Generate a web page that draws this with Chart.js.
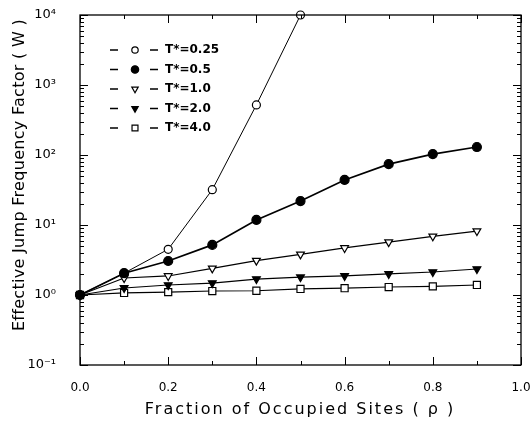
<!DOCTYPE html>
<html>
<head>
<meta charset="utf-8">
<script src="https://cdn.jsdelivr.net/npm/chart.js@4.4.1/dist/chart.umd.min.js"></script>
<style>
	html, body { margin: 0; padding: 0; background: #fff; }
	#wrap { width: 532px; height: 424px; }
</style>
</head>
<body>
<div id="wrap"><canvas id="chart" width="532" height="424"></canvas></div>
<script>
// fraction of occupied sites
const rho = [0.0, 0.1, 0.2, 0.3, 0.4, 0.5, 0.6, 0.7, 0.8, 0.9];

// effective jump frequency factor W, one list per temperature
const wT025 = [1, 2.05, 4.5, 32, 520, 10000];
const wT05 = [1, 2.05, 3.06, 5.2, 11.8, 22, 44, 74, 103, 130];
const wT10 = [1, 1.75, 1.87, 2.4, 3.1, 3.8, 4.7, 5.7, 6.9, 8.2];
const wT20 = [1, 1.26, 1.39, 1.48, 1.69, 1.8, 1.87, 2.0, 2.13, 2.35];
const wT40 = [1, 1.07, 1.1, 1.14, 1.15, 1.22, 1.25, 1.3, 1.33, 1.39];

const seriesLabels = ['T*=0.25', 'T*=0.5', 'T*=1.0', 'T*=2.0', 'T*=4.0'];

const xTicks = [0, 0.2, 0.4, 0.6, 0.8, 1.0];
const xMinorTicks = [0.1, 0.3, 0.5, 0.7, 0.9];
const yDecades = [0.1, 1, 10, 100, 1000, 10000];

const xTitle = 'Fraction of Occupied Sites ( ρ )';
const yTitle = 'Effective Jump Frequency Factor ( W )';

const supers = { '-': '⁻', '0': '⁰', '1': '¹', '2': '²', '3': '³', '4': '⁴' };

function toPoints (vals) {
	return vals.map((v, i) => ({ x: rho[i], y: v }));
}

function series (label, vals, style, filled, extra) {
	return Object.assign({
		label: label,
		data: toPoints(vals),
		borderColor: '#000',
		backgroundColor: filled ? '#000' : '#fff',
		pointBackgroundColor: filled ? '#000' : '#fff',
		pointBorderColor: '#000',
		pointBorderWidth: 1.2,
		pointStyle: style,
		pointRadius: 4,
		borderWidth: 1.2,
		tension: 0,
		clip: false,
		order: 1
	}, extra || {});
}

const datasets = [
	series(seriesLabels[0], wT025, 'circle', false, { borderWidth: 1, pointRadius: 4 }),
	series(seriesLabels[1], wT05, 'circle', true, { borderWidth: 1.7, pointRadius: 4.5, order: 0 }),
	series(seriesLabels[2], wT10, 'triangle', false, { pointRotation: 180, pointRadius: 4.5 }),
	series(seriesLabels[3], wT20, 'triangle', true, { pointRotation: 180, pointRadius: 4.5 }),
	series(seriesLabels[4], wT40, 'rect', false, { pointRadius: 5 })
];

// frame, inward tick marks and the two axis titles
const framePlugin = {
	id: 'frame',
	afterDraw (chart) {
		const ctx = chart.ctx;
		const a = chart.chartArea;
		const xs = chart.scales.x;
		const ys = chart.scales.y;
		ctx.save();
		ctx.strokeStyle = '#000';
		ctx.lineWidth = 1.3;
		ctx.strokeRect(a.left, a.top, a.right - a.left, a.bottom - a.top);
		ctx.lineWidth = 1;
		ctx.beginPath();
		const xt = (v, len) => {
			const p = Math.round(xs.getPixelForValue(v)) + 0.5;
			ctx.moveTo(p, a.bottom); ctx.lineTo(p, a.bottom - len);
			ctx.moveTo(p, a.top); ctx.lineTo(p, a.top + len);
		};
		xTicks.forEach((v) => xt(v, 8));
		xMinorTicks.forEach((v) => xt(v, 4));
		const yt = (v, len) => {
			const p = Math.round(ys.getPixelForValue(v)) + 0.5;
			ctx.moveTo(a.left, p); ctx.lineTo(a.left + len, p);
			ctx.moveTo(a.right, p); ctx.lineTo(a.right - len, p);
		};
		yDecades.forEach((d, i) => {
			yt(d, 8);
			if (i < yDecades.length - 1) {
				for (let k = 2; k <= 9; k++) yt(d * k, 4);
			}
		});
		ctx.stroke();

		// axis titles (drawn here so the letter spacing can follow the original)
		ctx.fillStyle = '#000';
		ctx.font = '16px "DejaVu Sans"';
		ctx.textAlign = 'center';
		ctx.textBaseline = 'middle';
		ctx.letterSpacing = '2px';
		ctx.fillText(xTitle, 300, 410);
		ctx.letterSpacing = '0.3px';
		ctx.translate(20, 175);
		ctx.rotate(-Math.PI / 2);
		ctx.fillText(yTitle, 0, 0);
		ctx.restore();
	}
};

// legend inside the plot: dash, marker, dash, text
const legendPlugin = {
	id: 'innerLegend',
	afterDraw (chart) {
		const ctx = chart.ctx;
		ctx.save();
		chart.data.datasets.forEach((ds, i) => {
			const y = 50 + i * 19.5;
			ctx.strokeStyle = '#000';
			ctx.lineWidth = 1.5;
			ctx.beginPath();
			ctx.moveTo(110, y); ctx.lineTo(118, y);
			ctx.moveTo(150, y); ctx.lineTo(158, y);
			ctx.stroke();
			ctx.fillStyle = ds.pointBackgroundColor;
			ctx.lineWidth = ds.pointBorderWidth;
			Chart.helpers.drawPoint(ctx, {
				pointStyle: ds.pointStyle,
				rotation: ds.pointRotation || 0,
				radius: ds.pointRadius - 0.8,
				borderWidth: ds.pointBorderWidth
			}, 135, y);
			ctx.fillStyle = '#000';
			ctx.font = 'bold 12px "DejaVu Sans"';
			ctx.textAlign = 'left';
			ctx.textBaseline = 'middle';
			ctx.fillText(ds.label, 165, y);
		});
		ctx.restore();
	}
};

const config = {
	type: 'line',
	data: { datasets: datasets },
	options: {
		responsive: false,
		animation: false,
		layout: { autoPadding: false, padding: { left: 0, right: 11, top: 15, bottom: 0 } },
		plugins: {
			legend: { display: false },
			tooltip: { enabled: false }
		},
		scales: {
			x: {
				type: 'linear',
				min: 0,
				max: 1,
				afterBuildTicks: (s) => { s.ticks = xTicks.map((v) => ({ value: v })); },
				afterFit: (s) => { s.height = 59; s.paddingLeft = 0; s.paddingRight = 0; },
				grid: { display: false },
				border: { display: false },
				ticks: {
					color: '#000',
					font: { family: 'DejaVu Sans', size: 12 },
					padding: 8,
					maxRotation: 0,
					callback: (v) => Number(v).toFixed(1)
				}
			},
			y: {
				type: 'logarithmic',
				min: 0.1,
				max: 10000,
				afterBuildTicks: (s) => { s.ticks = yDecades.map((v) => ({ value: v })); },
				afterFit: (s) => { s.width = 80; s.paddingTop = 0; s.paddingBottom = 0; },
				grid: { display: false },
				border: { display: false },
				ticks: {
					color: '#000',
					font: { family: 'DejaVu Sans', size: 13 },
					padding: 16,
					callback: (v) => {
						const e = String(Math.round(Math.log10(v)));
						return '10' + e.split('').map((c) => supers[c]).join('');
					}
				}
			}
		}
	},
	plugins: [framePlugin, legendPlugin]
};

new Chart(document.getElementById('chart'), config);
</script>
</body>
</html>
